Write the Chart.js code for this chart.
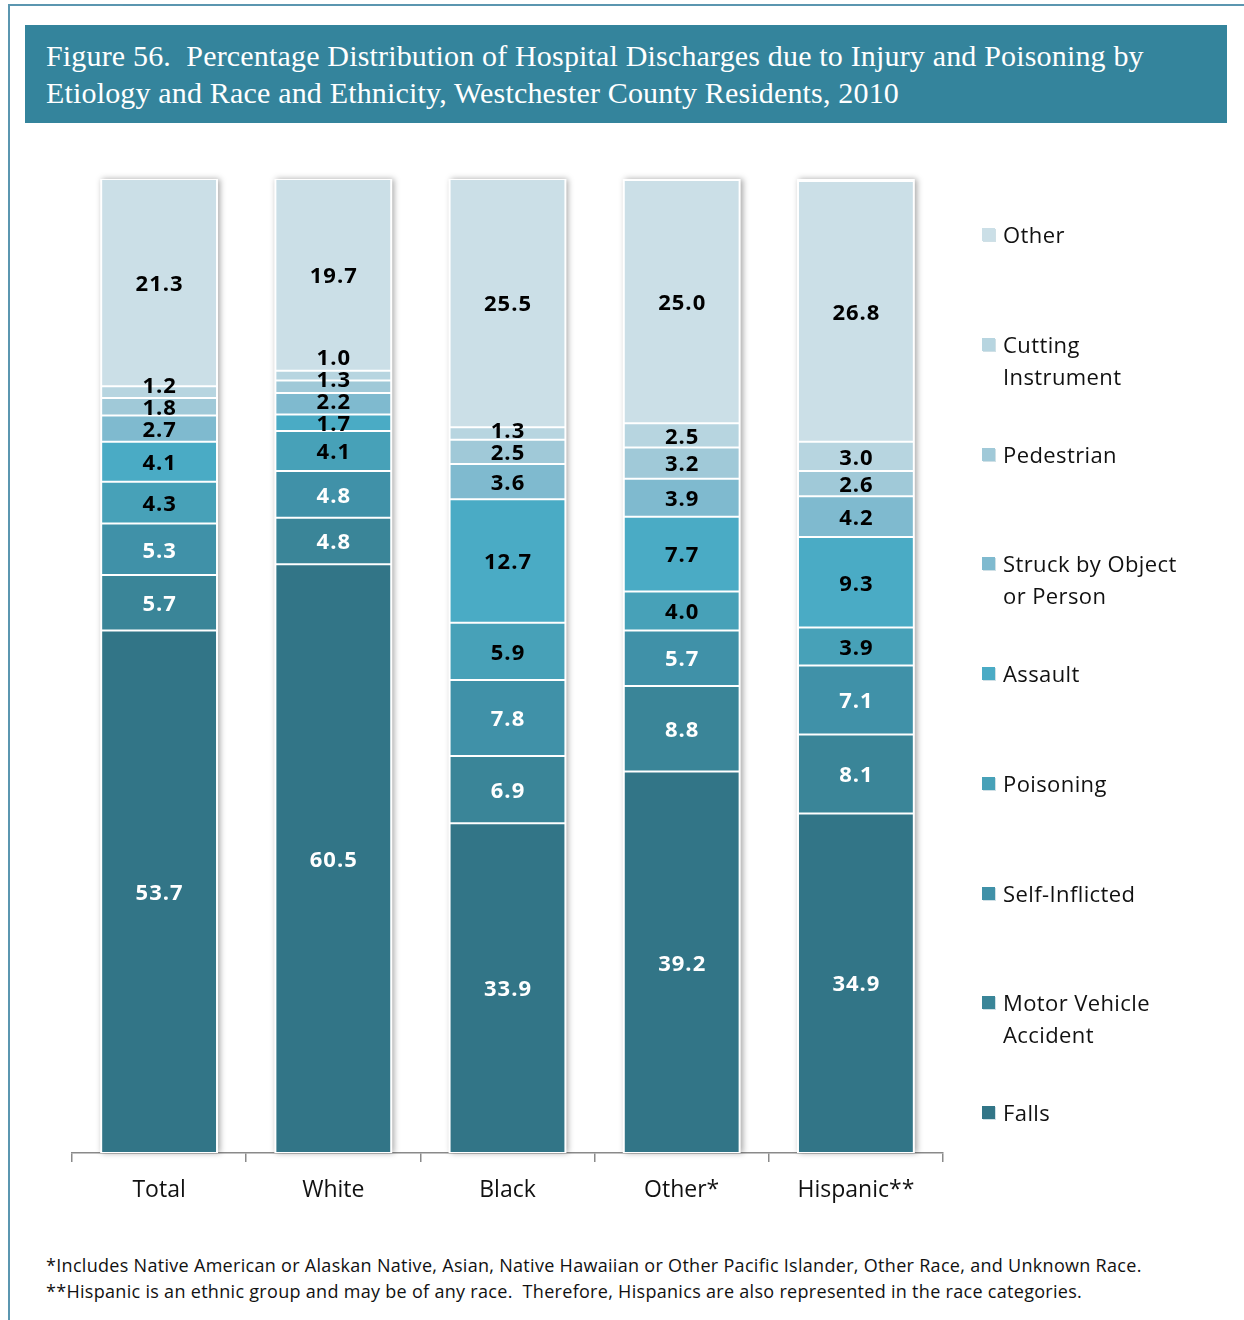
<!DOCTYPE html>
<html><head><meta charset="utf-8">
<script src="https://cdn.jsdelivr.net/npm/chart.js@4"></script>
<style>
body{margin:0;background:#fff;width:1244px;height:1320px;position:relative;overflow:hidden;font-family:"Open Sans",sans-serif;color:#111;}
#frame{position:absolute;left:8px;top:4px;width:1300px;height:1400px;border-left:2px solid #5b96b0;border-top:2px solid #5b96b0;}
#title{position:absolute;left:25px;top:25px;width:1202px;height:98px;background:#34849c;color:#fff;font-family:"Liberation Serif",serif;font-size:30px;letter-spacing:0.17px;line-height:37px;box-sizing:border-box;padding:12px 0 0 21px;white-space:nowrap;}
#wrap{position:absolute;left:0;top:0;width:1244px;height:1230px;}
.leg{position:absolute;left:1003px;font-size:22px;letter-spacing:0.4px;line-height:32px;white-space:nowrap;}
.legbox{position:absolute;left:-21px;top:10px;width:13px;height:13px;box-shadow:1px 1px 0 #cfe0e6;}
.foot{position:absolute;left:46px;font-size:18px;letter-spacing:0.3px;line-height:26px;white-space:nowrap;}
</style></head>
<body>
<div id="frame"></div>
<div id="title">Figure 56.&nbsp; Percentage Distribution of Hospital Discharges due to Injury and Poisoning by<br>Etiology and Race and Ethnicity, Westchester County Residents, 2010</div>
<div id="wrap"><canvas id="c"></canvas></div>
<div id="legend"></div>
<div class="foot" style="top:1252px">*Includes Native American or Alaskan Native, Asian, Native Hawaiian or Other Pacific Islander, Other Race, and Unknown Race.</div>
<div class="foot" style="top:1278px">**Hispanic is an ethnic group and may be of any race.&nbsp; Therefore, Hispanics are also represented in the race categories.</div>
<script>
const categories = ["Total", "White", "Black", "Other*", "Hispanic**"];
const falls         = [53.7, 60.5, 33.9, 39.2, 34.9];
const motorVehicle  = [5.7, 4.8, 6.9, 8.8, 8.1];
const selfInflicted = [5.3, 4.8, 7.8, 5.7, 7.1];
const poisoning     = [4.3, 4.1, 5.9, 4.0, 3.9];
const assault       = [4.1, 1.7, 12.7, 7.7, 9.3];
const struckBy      = [2.7, 2.2, 3.6, 3.9, 4.2];
const pedestrian    = [1.8, 1.3, 2.5, 3.2, 2.6];
const cutting       = [1.2, 1.0, 1.3, 2.5, 3.0];
const otherCause    = [21.3, 19.7, 25.5, 25.0, 26.8];

const seriesNames = ["Falls", "Motor Vehicle\nAccident", "Self-Inflicted", "Poisoning", "Assault",
  "Struck by Object\nor Person", "Pedestrian", "Cutting\nInstrument", "Other"];
const seriesData = [falls, motorVehicle, selfInflicted, poisoning, assault, struckBy, pedestrian, cutting, otherCause];
const seriesColors = ["#327587", "#3a8598", "#4091a8", "#47a1b8", "#4aabc5", "#7fbacf", "#a0c9d8", "#b7d5e0", "#cbdfe7"];
const labelColors = ["#ffffff", "#ffffff", "#ffffff", "#000000", "#000000", "#000000", "#000000", "#000000", "#000000"];

// HTML legend (top entry = last series)
const legendEl = document.getElementById('legend');
const legTop = 234, legStep = 109.75;
for (let k = 0; k < seriesNames.length; k++) {
  const d = seriesNames.length - 1 - k;
  const div = document.createElement('div');
  div.className = 'leg';
  div.style.top = (legTop + k * legStep - 16) + 'px';
  div.innerHTML = '<span class="legbox" style="background:' + seriesColors[d] + '"></span>' + seriesNames[d].replace('\n', '<br>');
  legendEl.appendChild(div);
}

const shadowPlugin = {
  id: 'barShadow',
  beforeDatasetsDraw(chart) {
    const ctx = chart.ctx, area = chart.chartArea;
    const meta = chart.getDatasetMeta(0);
    ctx.save();
    meta.data.forEach(el => {
      const w = el.width;
      ctx.shadowColor = 'rgba(0,0,0,0.35)';
      ctx.shadowBlur = 6;
      ctx.shadowOffsetX = 2;
      ctx.shadowOffsetY = 0;
      ctx.fillStyle = '#ffffff';
      ctx.fillRect(el.x - w / 2 - 1, area.top - 1, w + 2, area.bottom - area.top + 1);
    });
    ctx.restore();
  }
};

const labelPlugin = {
  id: 'segLabels',
  afterDatasetsDraw(chart) {
    const ctx = chart.ctx;
    ctx.save();
    ctx.font = 'bold 22px "Open Sans"';
    if ('letterSpacing' in ctx) ctx.letterSpacing = '1px';
    ctx.textAlign = 'center';
    ctx.textBaseline = 'middle';
    const n = chart.data.labels.length;
    for (let i = 0; i < n; i++) {
      let prev = Infinity;
      chart.data.datasets.forEach((ds, d) => {
        const el = chart.getDatasetMeta(d).data[i];
        let y = (el.y + el.base) / 2;
        if (y > prev - 22) y = prev - 22;
        prev = y;
        ctx.fillStyle = labelColors[d];
        ctx.fillText(ds.data[i].toFixed(1), el.x + 0.5, y + 2);
      });
    }
    ctx.restore();
  }
};

new Chart(document.getElementById('c'), {
  type: 'bar',
  data: {
    labels: categories,
    datasets: seriesData.map((arr, d) => ({
      label: seriesNames[d].replace('\n', ' '),
      data: arr,
      backgroundColor: seriesColors[d],
      borderColor: '#ffffff',
      borderWidth: 1,
      borderSkipped: false,
      categoryPercentage: 1,
      barPercentage: 0.665
    }))
  },
  options: {
    responsive: true,
    maintainAspectRatio: false,
    animation: false,
    layout: { padding: { left: 72, right: 301, top: 180, bottom: 17 } },
    plugins: { legend: { display: false }, tooltip: { enabled: false } },
    scales: {
      x: {
        stacked: true,
        grid: { display: true, drawOnChartArea: false, offset: true, tickLength: 9, color: '#8a8a8a', lineWidth: 1.5 },
        border: { display: true, color: '#8a8a8a', width: 1.5 },
        ticks: { font: { family: 'Open Sans', size: 23 }, color: '#111', padding: 15 },
        afterFit(s) { s.height = 60; }
      },
      y: { stacked: true, min: 0, max: 100, display: false }
    }
  },
  plugins: [shadowPlugin, labelPlugin]
});
</script>
</body></html>
